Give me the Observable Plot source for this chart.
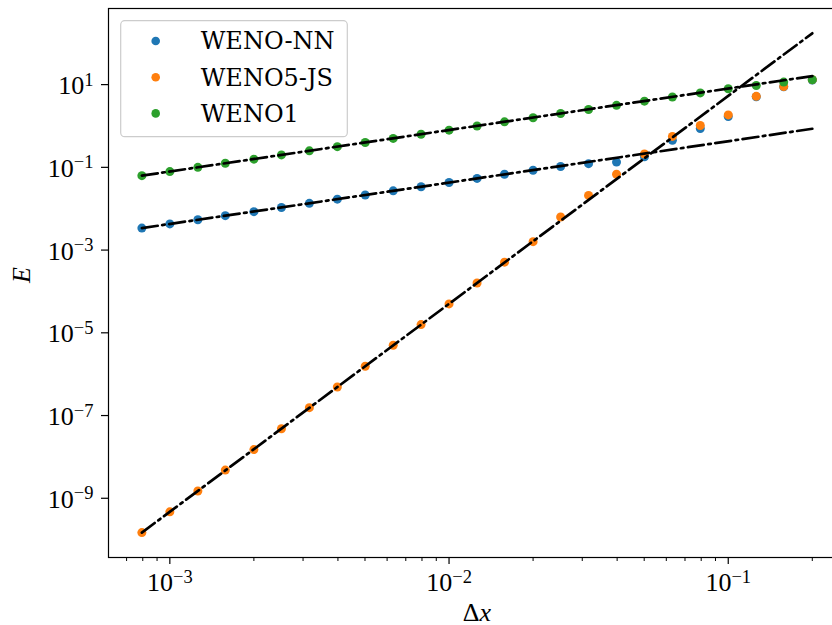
<!DOCTYPE html>
<html><head><meta charset="utf-8">
<script src="https://cdn.jsdelivr.net/npm/d3@7"></script>
<script src="https://cdn.jsdelivr.net/npm/@observablehq/plot@0.6"></script>
<style>
html,body{margin:0;padding:0;background:#fff;overflow:hidden;width:832px;height:625px;}
#chart{width:850px;}
</style></head><body><div id="chart"></div>
<script>
// grid spacing Δx
const dx = [7.94e-4, 1.0e-3, 1.26e-3, 1.58e-3, 2.0e-3, 2.51e-3, 3.16e-3, 3.98e-3, 5.01e-3, 6.31e-3,
            7.94e-3, 1.0e-2, 1.26e-2, 1.58e-2, 2.0e-2, 2.51e-2, 3.16e-2, 3.98e-2, 5.01e-2, 6.31e-2,
            7.94e-2, 0.1, 0.126, 0.158, 0.2];
// error E per scheme
const eNN = [3.4e-3, 4.3e-3, 5.4e-3, 6.8e-3, 8.5e-3, 1.07e-2, 1.35e-2, 1.7e-2, 2.14e-2, 2.7e-2,
             3.4e-2, 4.3e-2, 5.4e-2, 6.8e-2, 8.5e-2, 0.105, 0.123, 0.134, 0.18, 0.45,
             0.87, 1.7, 5.1, 8.9, 12.9];
const eJS = [1.48e-10, 4.7e-10, 1.5e-9, 4.8e-9, 1.5e-8, 4.8e-8, 1.55e-7, 4.9e-7, 1.55e-6, 5.0e-6,
             1.58e-5, 5.0e-5, 1.6e-4, 5.1e-4, 1.6e-3, 6.3e-3, 2.1e-2, 6.8e-2, 0.21, 0.56,
             1.03, 1.85, 5.2, 9.0, 13.2];
const eW1 = [6.3e-2, 7.9e-2, 0.1, 0.126, 0.158, 0.2, 0.251, 0.316, 0.398, 0.501,
             0.631, 0.794, 1.0, 1.26, 1.58, 2.0, 2.51, 3.16, 3.98, 5.01,
             6.31, 7.94, 9.55, 11.5, 13.2];
// reference slope lines (end points)
const refDx = [7.94e-4, 0.2];
const refNN = [3.4e-3, 0.857];
const refJS = [1.48e-10, 174];
const refW1 = [6.3e-2, 16.1];

const seriesNames = ["WENO-NN", "WENO5-JS", "WENO1"];
const seriesColors = ["#1f77b4", "#ff7f0e", "#2ca02c"];

const xMajor = [1e-3, 1e-2, 1e-1];
const xMinor = [7e-4, 8e-4, 9e-4, 2e-3, 3e-3, 4e-3, 5e-3, 6e-3, 7e-3, 8e-3, 9e-3,
                2e-2, 3e-2, 4e-2, 5e-2, 6e-2, 7e-2, 8e-2, 9e-2, 2e-1];
const yMajor = [1e1, 1e-1, 1e-3, 1e-5, 1e-7, 1e-9];
const xLabel = "Δx";
const yLabel = "E";

const tickFont = "'Liberation Serif', 'DejaVu Serif', serif";
const lab = d => "10^" + Math.round(Math.log10(d));
const dash = "16,4.5,2.6,4.5";

const plot = Plot.plot({
  width: 850, height: 625,
  marginLeft: 108, marginRight: 5, marginTop: 8, marginBottom: 68,
  style: {background: "white", color: "black"},
  x: {type: "log", domain: [6.03e-4, 0.263]},
  y: {type: "log", domain: [3.7e-11, 692]},
  marks: [
    Plot.dot(dx, {x: dx, y: eNN, fill: seriesColors[0], r: 4.5}),
    Plot.dot(dx, {x: dx, y: eJS, fill: seriesColors[1], r: 4.5}),
    Plot.dot(dx, {x: dx, y: eW1, fill: seriesColors[2], r: 4.5}),
    Plot.line(refDx, {x: refDx, y: refNN, stroke: "black", strokeWidth: 2.7, strokeDasharray: dash}),
    Plot.line(refDx, {x: refDx, y: refJS, stroke: "black", strokeWidth: 2.7, strokeDasharray: dash}),
    Plot.line(refDx, {x: refDx, y: refW1, stroke: "black", strokeWidth: 2.7, strokeDasharray: dash}),
    Plot.axisX(xMajor, {tickSize: 7, tickFormat: () => "", label: null, strokeWidth: 1.2}),
    Plot.axisX(xMinor, {tickSize: 4, tickFormat: () => "", label: null, strokeWidth: 1}),
    Plot.axisY(yMajor, {tickSize: 7, tickFormat: () => "", label: null, strokeWidth: 1.2}),
    Plot.text(xMajor, {x: d => d, frameAnchor: "bottom", lineAnchor: "bottom", dy: 33.5,
      text: lab, fontSize: 26, fontFamily: tickFont, fill: "black"}),
    Plot.text(yMajor, {y: d => d, frameAnchor: "left", textAnchor: "end", lineAnchor: "bottom",
      dx: -15, dy: 9.6, text: lab, fontSize: 26, fontFamily: tickFont, fill: "black"}),
    Plot.text([yLabel], {frameAnchor: "left", dx: -87, rotate: -90, text: d => d,
      fontSize: 26, fontStyle: "italic", fontFamily: tickFont, fill: "black"}),
    Plot.text([xLabel], {frameAnchor: "bottom", lineAnchor: "bottom", dy: 63, text: d => d,
      fontSize: 26, fontFamily: tickFont, fill: "black"}),
    Plot.frame({stroke: "black", strokeWidth: 1.2})
  ]
});
document.getElementById("chart").append(plot);

const ns = "http://www.w3.org/2000/svg";
plot.querySelectorAll("text").forEach(t => {
  const m = /^10\^(-?\d+)$/.exec(t.textContent);
  if (m) {
    t.textContent = "";
    const a = document.createElementNS(ns, "tspan"); a.textContent = "10";
    const b = document.createElementNS(ns, "tspan"); b.textContent = m[1].replace("-", "\u2212");
    b.setAttribute("dy", "-8.5"); b.setAttribute("font-size", "18.5");
    t.append(a, b);
  } else if (t.textContent === xLabel) {
    t.textContent = "";
    const a = document.createElementNS(ns, "tspan"); a.textContent = "Δ";
    const b = document.createElementNS(ns, "tspan"); b.textContent = "x"; b.setAttribute("font-style", "italic");
    t.append(a, b);
  }
});

// legend
const svg = d3.select(plot);
const lg = svg.append("g").attr("text-anchor", "start");
lg.append("rect").attr("x", 120.7).attr("y", 20.7).attr("width", 226.6).attr("height", 116)
  .attr("rx", 4).attr("fill", "white").attr("fill-opacity", 0.8).attr("stroke", "#cccccc").attr("stroke-width", 1.2);
seriesNames.forEach((name, i) => {
  const cy = 41 + 36.2 * i;
  lg.append("circle").attr("cx", 155.7).attr("cy", cy).attr("r", 4.3).attr("fill", seriesColors[i]);
  lg.append("text").attr("x", 200.7).attr("y", cy + 8.3)
    .style("font-size", "24px").style("font-family", "'DejaVu Serif', serif")
    .attr("text-anchor", "start").attr("fill", "black").text(name);
});
</script></body></html>
